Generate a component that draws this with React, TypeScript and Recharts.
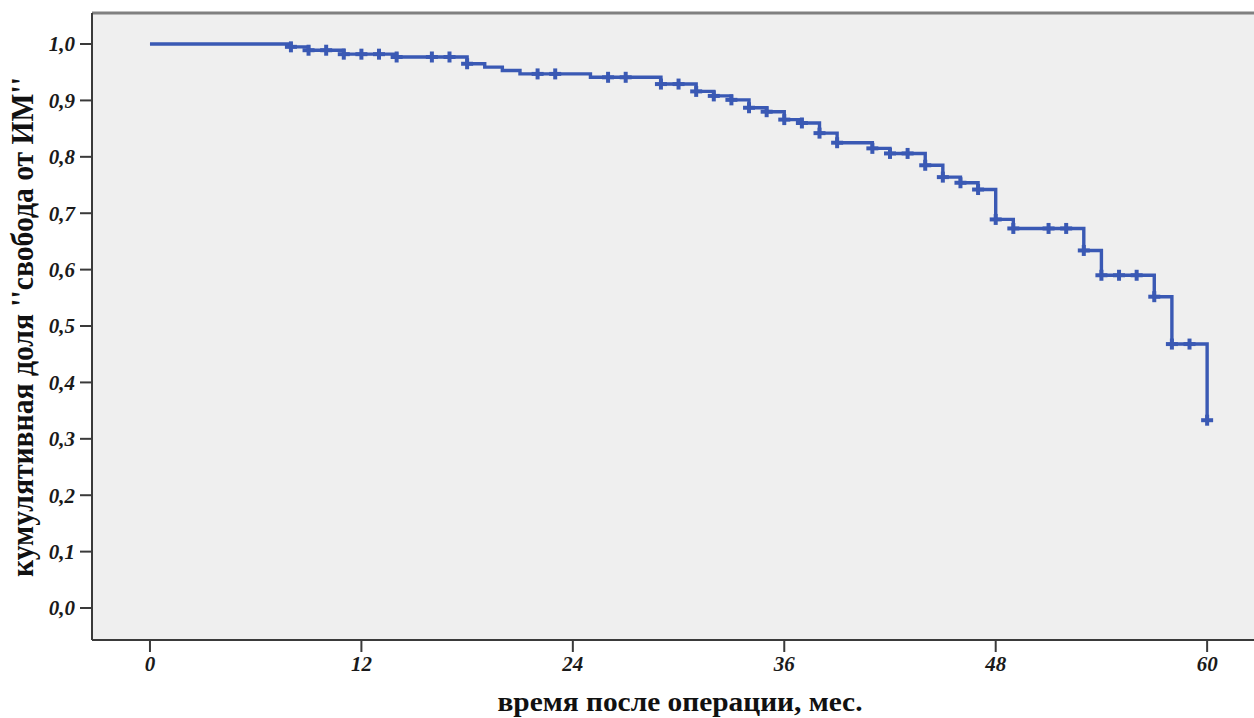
import { ComposedChart, Line, Scatter, XAxis, YAxis, CartesianGrid, ReferenceLine } from 'recharts'

// Kaplan-Meier step curve: month of each step and the level after it
const eventMonths = [0, 8, 9, 11, 14, 18, 19, 20, 21, 25, 29, 31, 32, 33, 34, 35, 36, 37, 38, 39, 41, 42, 44, 45, 46, 47, 48, 49, 53, 54, 57, 58, 60]
const survival = [1.0, 0.995, 0.989, 0.982, 0.977, 0.965, 0.959, 0.953, 0.947, 0.941, 0.929, 0.916, 0.908, 0.901, 0.887, 0.880, 0.866, 0.860, 0.842, 0.825, 0.815, 0.806, 0.785, 0.764, 0.754, 0.742, 0.689, 0.673, 0.634, 0.590, 0.552, 0.468, 0.333]

// censored cases (+)
const censoredMonths = [8, 9, 10, 11, 12, 13, 14, 16, 17, 18, 22, 23, 26, 27, 29, 30, 31, 32, 33, 34, 35, 36, 37, 38, 39, 41, 42, 43, 44, 45, 46, 47, 48, 49, 51, 52, 53, 54, 55, 56, 57, 58, 59, 60]

const xTicks = [0, 12, 24, 36, 48, 60]
const yTicks = [0, 0.1, 0.2, 0.3, 0.4, 0.5, 0.6, 0.7, 0.8, 0.9, 1.0]

const xTitle = 'время после операции, мес.'
const yTitle = "кумулятивная доля ''свобода от ИМ''"

const BLUE = '#3a59b4'
const AXIS = '#3a3a3a'
const SERIF = "'Liberation Serif', 'Times New Roman', Times, serif"

const curve = eventMonths.map((t, i) => ({ t, s: survival[i] }))

const levelAt = (t: number) => {
  let s = survival[0]
  eventMonths.forEach((m, i) => { if (m <= t) s = survival[i] })
  return s
}
const marks = censoredMonths.map(t => ({ t, s: levelAt(t) }))

const tickStyle = {
  fill: '#1a1a1a', fontSize: 21, fontStyle: 'italic', fontWeight: 'bold', fontFamily: SERIF,
}

const Plus = (props: any) => {
  const { cx, cy } = props
  if (cx == null || cy == null) return null
  return (
    <g stroke={BLUE} strokeWidth={4}>
      <line x1={cx - 6} y1={cy} x2={cx + 6} y2={cy} />
      <line x1={cx} y1={cy - 5.5} x2={cx} y2={cy + 5.5} />
    </g>
  )
}

const XTitle = () => (
  <text x={680} y={711} textAnchor="middle" textLength={365} lengthAdjust="spacingAndGlyphs"
    style={{ fontSize: 28, fontWeight: 'bold', fontFamily: SERIF, fill: '#111' }}>
    {xTitle}
  </text>
)

const YTitle = () => (
  <text x={0} y={0} textAnchor="middle" textLength={500} lengthAdjust="spacingAndGlyphs"
    transform="translate(33 327) rotate(-90)"
    style={{ fontSize: 31, fontWeight: 'bold', fontFamily: SERIF, fill: '#111' }}>
    {yTitle}
  </text>
)

export default function App() {
  return (
    <div style={{ position: 'absolute', left: 0, top: 0, width: 1254, height: 718, overflow: 'hidden', background: '#fff' }}>
      <ComposedChart width={1254} height={718} margin={{ top: 13, right: 0, bottom: 0, left: 0 }}>
        <CartesianGrid fill="#efefef" stroke="none" horizontal={false} vertical={false} />
        <XAxis
          type="number" dataKey="t" domain={[-3.29, 62.66]} ticks={xTicks} allowDataOverflow
          height={78} tickSize={12} tickMargin={4} interval={0}
          axisLine={{ stroke: AXIS, strokeWidth: 2 }} tickLine={{ stroke: AXIS, strokeWidth: 2 }}
          tick={tickStyle} label={<XTitle />}
        />
        <YAxis
          type="number" dataKey="s" domain={[-0.0567, 1.055]} ticks={yTicks} allowDataOverflow
          width={92} tickSize={12} tickMargin={5} interval={0}
          tickFormatter={(v: number) => v.toFixed(1).replace('.', ',')}
          axisLine={{ stroke: AXIS, strokeWidth: 2 }} tickLine={{ stroke: AXIS, strokeWidth: 2 }}
          tick={tickStyle} label={<YTitle />}
        />
        <ReferenceLine y={1.055} stroke="#808080" strokeWidth={3} />
        <Line
          data={curve} dataKey="s" type="stepAfter" stroke={BLUE} strokeWidth={3.4}
          dot={false} activeDot={false} isAnimationActive={false}
        />
        <Scatter data={marks} dataKey="s" shape={<Plus />} isAnimationActive={false} />
      </ComposedChart>
    </div>
  )
}
